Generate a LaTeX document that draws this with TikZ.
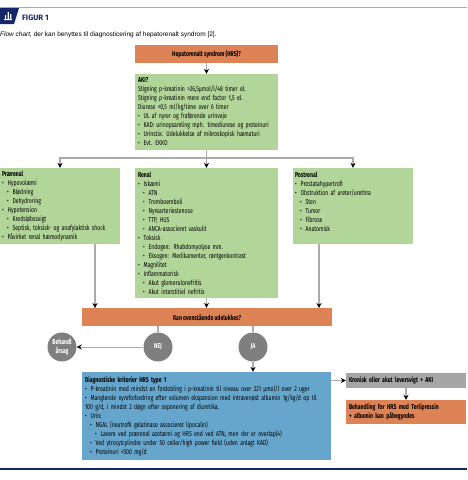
\documentclass[tikz,border=0pt]{standalone}
\usepackage{fontspec}
\setmainfont[FakeStretch=0.72]{Fira Sans}
\newfontfamily\capfont{Liberation Sans}
\newfontfamily\figfont{Fira Sans}
\usepackage{tikz}
\usetikzlibrary{arrows.meta}
\definecolor{boxgreen}{HTML}{B2D69A}
\definecolor{boxorange}{HTML}{DE8355}
\definecolor{boxblue}{HTML}{66A6CC}
\definecolor{circgrey}{HTML}{7F7F7F}
\definecolor{boxgrey}{HTML}{A6A6A6}
\definecolor{linegrey}{HTML}{ABABAB}
\definecolor{navy}{HTML}{14276B}
\newcommand{\bulA}{\textbullet\hspace{4pt}}
\newcommand{\bulB}{\hspace*{5pt}\textbullet\hspace{4pt}}
\newcommand{\bulC}{\hspace*{10pt}\textbullet\hspace{4pt}}
\tikzset{
  box/.style={inner sep=0pt, font=\fontsize{7.1}{9}\selectfont, align=left},
  greenbox/.style={box, fill=boxgreen, text width=#1},
  orangebox/.style={box, fill=boxorange, align=center},
  circ/.style={circle, fill=circgrey, minimum size=29pt, inner sep=0pt, text=white, align=center, font=\bfseries\fontsize{7.1}{9}\selectfont},
  conn/.style={draw=linegrey, line width=1.8pt, -{Stealth[black, length=5pt, width=5pt]}},
  connplain/.style={draw=linegrey, line width=1.8pt},
  connthin/.style={draw=linegrey, line width=0.8pt, -{Stealth[black, length=5pt, width=5pt]}}
}
\begin{document}
\begin{tikzpicture}[x=1pt, y=-1pt]
  \useasboundingbox (0,0) rectangle (467,480);

  % header
  \draw[linegrey, line width=1pt] (0,7.5) -- (467,7.5);
  \fill[navy] (0,8) -- (19,8) -- (14,24) -- (0,24) -- cycle;
  \fill[white] (4,19) rectangle (12,20) (5,15) rectangle (6.2,19) (7.6,12) rectangle (8.8,19) (10.2,14) rectangle (11.4,19);
  \node[anchor=west, inner sep=0pt, text=navy, font=\figfont\bfseries\fontsize{7.8}{9}\selectfont] (figur) at (22,17.5) {FIGUR 1};
  \node[anchor=west, inner sep=0pt, font=\capfont\fontsize{6.5}{9}\selectfont] (caption) at (0,35) {\textit{Flow chart,} der kan benyttes til diagnosticering af hepatorenalt syndrom [2].};

  % boxes
  \node[orangebox, minimum width=143pt, minimum height=18pt, font=\bfseries\fontsize{7.1}{9}\selectfont] (hrs) at (206.5,54) {Hepatorenalt syndrom (HRS)?};
  \node[greenbox=137pt, minimum width=143pt, minimum height=76pt, below of=hrs, node distance=58pt] (aki) {\textbf{AKI?}\\
    Stigning p-kreatinin >26,5µmol/l/48 timer el.\\
    Stigning p-kreatinin mere end factor 1,5 el.\\
    Diurese <0,5 ml/kg/time over 6 timer\\
    \bulA UL af nyrer og fraførende urinveje\\
    \bulA KAD: urinopsamling mph. timediurese og proteinuri\\
    \bulA Urinstix: Udelukkelse af mikroskopisk hæmaturi\\
    \bulA Evt. EKKO};
  \node[greenbox=137pt, minimum width=143pt, minimum height=130pt, below of=aki, node distance=121pt] (renal) {\textbf{Renal}\\
    \bulA Iskæmi\\
    \bulB ATN\\
    \bulB Tromboemboli\\
    \bulB Nyrearteriestenose\\
    \bulB TTP, HUS\\
    \bulB ANCA-associeret vaskulit\\
    \bulA Toksisk\\
    \bulB Endogen: Rhabdomyolyse mm.\\
    \bulB Eksogen: Medikamenter, røntgenkontrast\\
    \bulA Magnilitet\\
    \bulA Inflammatorisk\\
    \bulB Akut glomerulonefritis\\
    \bulB Akut interstitiel nefritis};
  \node[greenbox=116pt, minimum width=120pt, minimum height=76pt] (praerenal) at (60,206) {\textbf{Prærenal}\\
    \bulA Hypovolæmi\\
    \bulB Blødning\\
    \bulB Dehydrering\\
    \bulA Hypotension\\
    \bulB Kredsløbssvigt\\
    \bulB Septisk, toksisk- og anafylaktisk shock\\
    \bulA Påvirket renal hæmodynamik};
  \node[greenbox=116pt, minimum width=120pt, minimum height=76pt] (postrenal) at (353,206) {\textbf{Postrenal}\\
    \bulA Prostatahypertrofi\\
    \bulA Obstruktion af ureter/urethra\\
    \bulB Sten\\
    \bulB Tumor\\
    \bulB Fibrose\\
    \bulB Anatomisk\\
    \mbox{}};
  \node[orangebox, minimum width=250pt, minimum height=18pt, font=\bfseries\fontsize{7.1}{9}\selectfont] (kan) at (207,317) {Kan ovenstående udelukkes?};
  \node[circ] (nej) at (158,347) {NEJ};
  \node[circ] (ja) at (253,347) {JA};
  \node[circ] (behandl) at (62,347) {Behandl\\årsag};
  \node[box, fill=boxblue, text width=243pt, minimum width=249pt, minimum height=88pt] (krit) at (206.5,416) {\textbf{Diagnostiske kriterier HRS type 1}\\
    \bulA P-kreatinin med mindst en fordobling i p-kreatinin til niveau over 221 µmol/l over 2 uger\\
    \bulA Manglende nyreforbedring efter volumen ekspansion med intravenøst albumin 1g/kg/d op til\\
    100 g/d, i mindst 2 døgn efter seponering af diuretika.\\
    \bulA Urin:\\
    \bulB NGAL (neutrofil gelatinase associeret lipocalin)\\
    \bulC Lavere ved prærenal azotæmi og HRS end ved ATN, men der er overlap(4)\\
    \bulB Ved ytrocytcylindre under 50 celler/high power field (uden anlagt KAD)\\
    \bulB Proteinuri <500 mg/d};
  \node[box, fill=boxgrey, text width=114pt, minimum width=120pt, minimum height=15pt, font=\bfseries\fontsize{7.1}{9}\selectfont] (kronisk) at (406,380.5) {Kronisk eller akut leversvigt + AKI};
  \node[box, fill=boxorange, text width=114pt, minimum width=120pt, minimum height=24pt, font=\bfseries\fontsize{7.1}{9}\selectfont, below of=kronisk, node distance=31.5pt] (terli) {Behandling for HRS med Terlipressin\\+ albumin kan påbegyndes};

  % free ends
  \coordinate (bus) at (206.5,158);
  \coordinate (praeend) at (95,308);
  \coordinate (postend) at (319,308);
  \coordinate (nejtop) at (158,326);
  \coordinate (jatop) at (253,326);

  % connectors
  \draw[conn] (hrs) -- (aki);
  \draw[connplain] (aki) -- (bus);
  \draw[conn] (bus) -| (praerenal);
  \draw[conn] (bus) -- (renal);
  \draw[conn] (bus) -| (postrenal);
  \draw[conn] (praeend |- praerenal.south) -- (praeend);
  \draw[conn] (renal) -- (renal.south |- kan.north);
  \draw[conn] (postend |- postrenal.south) -- (postend);
  \draw[connplain] (nejtop) -- (nej);
  \draw[connplain] (jatop) -- (ja);
  \draw[connthin] (nej) -- (behandl);
  \draw[conn] (ja) -- (ja |- krit.north);
  \draw[connthin] (krit.east |- kronisk) -- (kronisk);
  \draw[conn] (kronisk) -- (terli);

  % footer
  \draw[navy, line width=2pt] (0,469) -- (467,469);
\end{tikzpicture}
\end{document}
